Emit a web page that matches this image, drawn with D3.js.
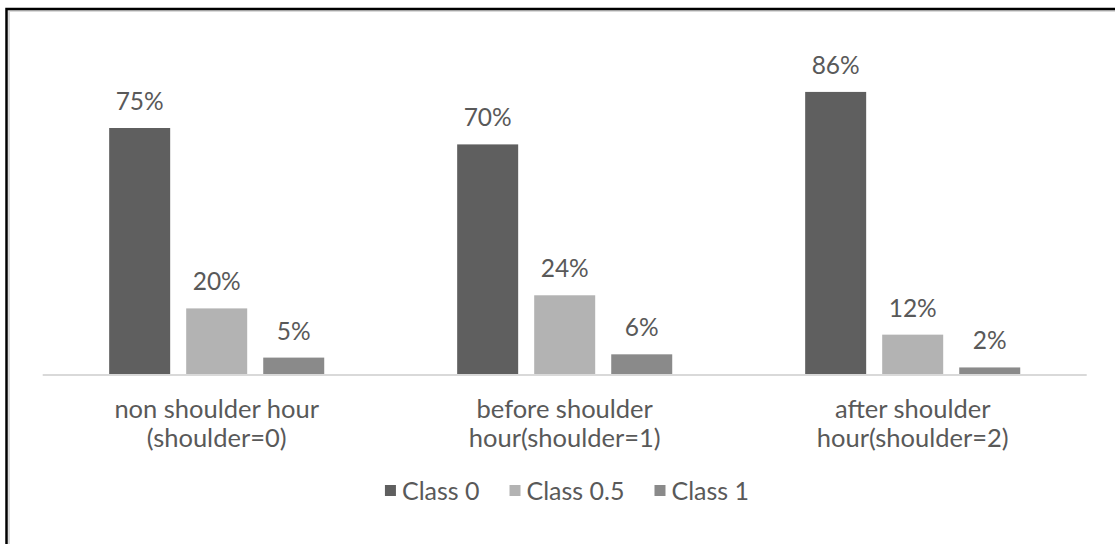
<!DOCTYPE html>
<html>
<head>
<meta charset="utf-8">
<script src="https://cdn.jsdelivr.net/npm/d3@7"></script>
<style>
  html, body { margin: 0; padding: 0; background: #fff; }
  svg { display: block; }
  text { font-family: Lato, "Open Sans", sans-serif; fill: #595959; }
</style>
</head>
<body>
<svg id="chart" width="1115" height="544"></svg>
<script>
// Share of each class by shoulder-hour group (percent)
const categories = [
  ["non shoulder hour", "(shoulder=0)"],
  ["before shoulder", "hour(shoulder=1)"],
  ["after shoulder", "hour(shoulder=2)"]
];
const seriesNames = ["Class 0", "Class 0.5", "Class 1"];
const class0 = [75, 70, 86];
const class05 = [20, 24, 12];
const class1 = [5, 6, 2];
const seriesColors = ["#5f5f5f", "#b3b3b3", "#8a8a8a"];

const seriesValues = [class0, class05, class1];
const svg = d3.select("#chart");

// Outer frame
svg.append("rect")
  .attr("x", 9).attr("y", 11).attr("width", 1120).attr("height", 540)
  .attr("fill", "none").attr("stroke", "#dadada").attr("stroke-width", 2);
svg.append("rect")
  .attr("x", 6.5).attr("y", 9).attr("width", 1120).attr("height", 540)
  .attr("fill", "none").attr("stroke", "#000").attr("stroke-width", 2.5);

const plotLeft = 42.7, plotRight = 1086.7, baseY = 374;

const x0 = d3.scaleBand()
  .domain(d3.range(categories.length))
  .range([plotLeft, plotRight]);

const step = x0.step();
const x1 = d3.scaleBand()
  .domain(d3.range(seriesNames.length))
  .range([step * 0.191, step * 0.809])
  .paddingInner(0.208);

const y = d3.scaleLinear().domain([0, 100]).range([baseY, baseY - 328]);

const groups = svg.selectAll("g.cat")
  .data(categories)
  .join("g")
  .attr("class", "cat")
  .attr("transform", (d, i) => `translate(${x0(i)},0)`);

groups.each(function (cat, ci) {
  const g = d3.select(this);
  seriesValues.forEach((vals, si) => {
    const v = vals[ci];
    g.append("rect")
      .attr("x", x1(si))
      .attr("y", y(v))
      .attr("width", x1.bandwidth())
      .attr("height", baseY - y(v))
      .attr("fill", seriesColors[si]);
    g.append("text")
      .attr("x", x1(si) + x1.bandwidth() / 2)
      .attr("y", y(v) - 18)
      .attr("text-anchor", "middle")
      .attr("font-size", 24.5)
      .text(v + "%");
  });
});

// Category axis line
svg.append("line")
  .attr("x1", plotLeft).attr("x2", plotRight)
  .attr("y1", baseY + 1).attr("y2", baseY + 1)
  .attr("stroke", "#d9d9d9").attr("stroke-width", 2);

// Category labels (two lines each)
const xAxis = d3.axisBottom(x0).tickSize(0).tickFormat("");
const axisG = svg.append("g")
  .attr("transform", `translate(0,${baseY})`)
  .call(xAxis);
axisG.select(".domain").remove();
axisG.selectAll(".tick").each(function (d) {
  const t = d3.select(this).append("text")
    .attr("text-anchor", "middle")
    .attr("font-size", 25.5)
    .style("fill", "#595959");
  categories[d].forEach((line, li) => {
    t.append("tspan").attr("x", 0).attr("y", 44 + li * 29).text(line);
  });
});

// Legend
const legend = svg.append("g").attr("class", "legend");
const items = legend.selectAll("g")
  .data(seriesNames)
  .join("g");
items.append("rect")
  .attr("width", 11).attr("height", 11)
  .attr("y", -15)
  .attr("fill", (d, i) => seriesColors[i]);
items.append("text")
  .attr("x", 17)
  .attr("font-size", 25)
  .text(d => d);
let cursor = 0;
const widths = [];
items.each(function () {
  const w = 17 + d3.select(this).select("text").node().getComputedTextLength();
  widths.push(w);
});
const gapItems = 30;
const total = d3.sum(widths) + gapItems * (widths.length - 1);
const startX = 567 - total / 2;
items.attr("transform", (d, i) => {
  const tx = startX + cursor;
  cursor += widths[i] + gapItems;
  return `translate(${tx},500)`;
});
</script>
</body>
</html>
